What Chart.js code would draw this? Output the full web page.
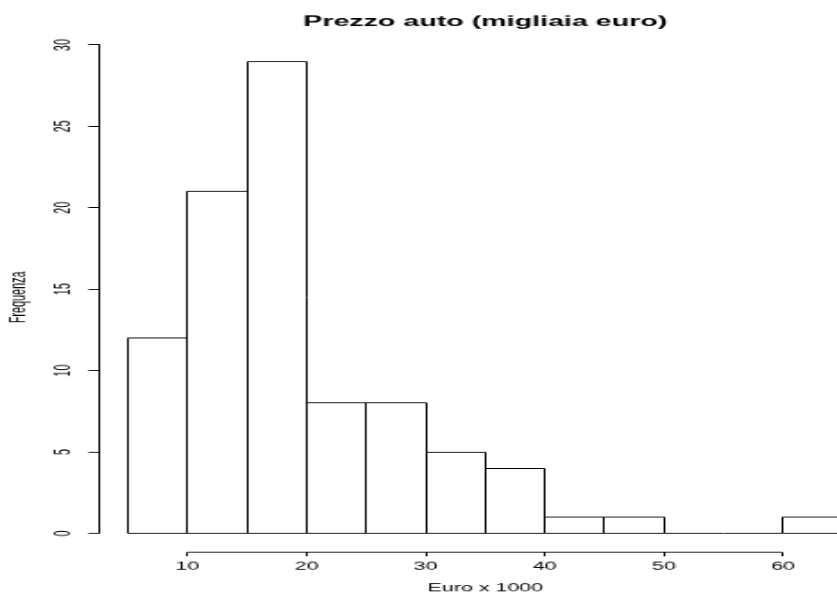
<!DOCTYPE html>
<html>
<head>
<meta charset="utf-8">
<title>Prezzo auto (migliaia euro)</title>
<script src="https://cdn.jsdelivr.net/npm/chart.js@4/dist/chart.umd.min.js"></script>
<style>
  html, body { margin: 0; padding: 0; background: #fff; overflow: hidden; }
  /* the plot is laid out on a 468x660 canvas and stretched to fill the window */
  #wrap { position: absolute; left: 0; top: 0; width: 468px; height: 660px;
          transform-origin: 0 0; transform: scale(1.7885, 0.9); }
  canvas { display: block; }
</style>
</head>
<body>
<div id="wrap"><canvas id="c" width="468" height="660"></canvas></div>
<script>
// Histogram bins (thousands of euro) and their frequencies
const binStarts = [5, 10, 15, 20, 25, 30, 35, 40, 45, 50, 55, 60];
const binWidth = 5;
const counts = [12, 21, 29, 8, 8, 5, 4, 1, 1, 0, 0, 1];

// Axis ticks and labels
const xTicks = [10, 20, 30, 40, 50, 60];
const yTicks = [0, 5, 10, 15, 20, 25, 30];
const titleText = 'Prezzo auto (migliaia euro)';
const xTitleText = 'Euro x 1000';
const yTitleText = 'Frequenza';

// Axis ranges (R-style 4% extension; the right end is cut by the window)
const xRange = [2.6, 64.53];
const yRange = [-1.16, 30.16];

const points = binStarts.map((s, i) => ({ x: s + binWidth / 2, y: counts[i] }));
const FONT = '"Liberation Sans", Arial, Helvetica, sans-serif';

// snap a coordinate to the middle of a pixel so 1px strokes stay crisp
const crisp = v => Math.round(v - 0.5) + 0.5;

// Outline every bin like R's rect(): stroke centred on the edges,
// empty bins show as a line along the baseline.
const binOutline = {
  id: 'binOutline',
  afterDatasetsDraw(chart) {
    const ctx = chart.ctx, a = chart.chartArea;
    const meta = chart.getDatasetMeta(0);
    ctx.save();
    ctx.beginPath();
    ctx.rect(a.left, a.top, a.right - a.left, a.bottom - a.top);
    ctx.clip();
    ctx.strokeStyle = '#000';
    ctx.lineWidth = 1;
    ctx.beginPath();
    meta.data.forEach(bar => {
      const p = bar.getProps(['x', 'y', 'base', 'width'], true);
      const l = crisp(p.x - p.width / 2), r = crisp(p.x + p.width / 2);
      const t = crisp(p.y), b = crisp(p.base);
      if (b - t < 0.5) {
        ctx.moveTo(l, b);
        ctx.lineTo(r, b);
      } else {
        ctx.rect(l, t, r - l, b - t);
      }
    });
    ctx.stroke();
    ctx.restore();
  }
};

// Axis lines spanning first to last tick, plus main and axis titles
const rAxes = {
  id: 'rAxes',
  afterDraw(chart) {
    const ctx = chart.ctx, a = chart.chartArea;
    const xs = chart.scales.x, ys = chart.scales.y;
    ctx.save();
    ctx.strokeStyle = '#000';
    ctx.lineWidth = 1;
    ctx.beginPath();
    const by = crisp(a.bottom), lx = crisp(a.left);
    ctx.moveTo(crisp(xs.getPixelForValue(xTicks[0])), by);
    ctx.lineTo(crisp(xs.getPixelForValue(xTicks[xTicks.length - 1])), by);
    ctx.moveTo(lx, crisp(ys.getPixelForValue(yTicks[0])));
    ctx.lineTo(lx, crisp(ys.getPixelForValue(yTicks[yTicks.length - 1])));
    ctx.stroke();

    const cx = xs.getPixelForValue((xRange[0] + 67.4) / 2);
    ctx.fillStyle = '#000';
    ctx.textAlign = 'center';
    ctx.textBaseline = 'alphabetic';
    ctx.font = 'bold 16px ' + FONT;
    ctx.fillText(titleText, cx, 29);

    ctx.font = '12px ' + FONT;
    ctx.textBaseline = 'middle';
    ctx.fillText(xTitleText, cx, 654);

    const cy = ys.getPixelForValue((yRange[0] + yRange[1]) / 2);
    ctx.translate(11, cy);
    ctx.rotate(-Math.PI / 2);
    ctx.fillText(yTitleText, 0, 0);
    ctx.restore();
  }
};

new Chart(document.getElementById('c'), {
  type: 'bar',
  data: {
    datasets: [{
      data: points,
      backgroundColor: '#ffffff',
      borderWidth: 0,
      barPercentage: 1,
      categoryPercentage: 1
    }]
  },
  options: {
    responsive: false,
    animation: false,
    devicePixelRatio: 1,
    layout: { padding: { top: 47.1, left: 0, right: 0, bottom: 0 } },
    plugins: { legend: { display: false }, tooltip: { enabled: false }, title: { display: false } },
    scales: {
      x: {
        type: 'linear',
        min: xRange[0],
        max: xRange[1],
        offset: false,
        border: { display: false },
        grid: { display: true, offset: false, drawOnChartArea: false, drawTicks: true,
                tickLength: 4.5, color: '#000', lineWidth: 1 },
        afterBuildTicks: s => { s.ticks = xTicks.map(v => ({ value: v })); },
        afterFit: s => { s.height = 46.4; },
        ticks: { color: '#000', padding: 4.4, maxRotation: 0, minRotation: 0,
                 font: { family: FONT, size: 12 }, callback: v => String(v) }
      },
      y: {
        type: 'linear',
        min: yRange[0],
        max: yRange[1],
        border: { display: false },
        grid: { display: true, drawOnChartArea: false, drawTicks: true,
                tickLength: 6.1, color: '#000', lineWidth: 1 },
        afterBuildTicks: s => { s.ticks = yTicks.map(v => ({ value: v })); },
        afterFit: s => { s.width = 55.5; },
        ticks: { color: '#000', padding: 6.7, minRotation: 90, maxRotation: 90,
                 crossAlign: 'center', font: { family: FONT, size: 12 },
                 callback: v => String(v) }
      }
    }
  },
  plugins: [binOutline, rAxes]
});
</script>
</body>
</html>
